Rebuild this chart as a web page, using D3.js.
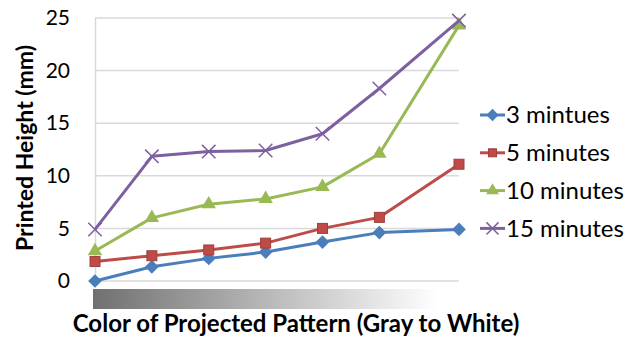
<!DOCTYPE html>
<html>
<head>
<meta charset="utf-8">
<script src="https://cdn.jsdelivr.net/npm/d3@7"></script>
<style>
  body { margin: 0; background: #fff; }
  svg { display: block; font-family: Lato, "Open Sans", sans-serif; }
</style>
</head>
<body>
<div id="canvas"></div>
<script>
"use strict";

// gray level of each projected pattern (last step is wider on the original axis)
let levels = [0, 1, 2, 3, 4, 5, 6.4];

let seriesNames = ["3 mintues", "5 minutes", "10 minutes", "15 minutes"];
let min3 = [0, 1.35, 2.15, 2.75, 3.7, 4.6, 4.9];
let min5 = [1.85, 2.4, 2.95, 3.6, 5.0, 6.05, 11.1];
let min10 = [2.85, 6.0, 7.3, 7.8, 8.95, 12.1, 24.3];
let min15 = [4.9, 11.85, 12.3, 12.4, 14.0, 18.3, 24.75];
let yTicks = [0, 5, 10, 15, 20, 25];

let colors = ["#4a7ebb", "#be4b48", "#98b954", "#7d60a0"];
let shapes = ["diamond", "square", "triangle", "cross"];

let width = 640;
let height = 339;

let svg = d3.select("#canvas")
  .append("svg")
  .attr("width", width)
  .attr("height", height);

let xScale = d3.scaleLinear()
  .domain([0, 6.4])
  .range([95, 459]);

let yScale = d3.scaleLinear()
  .domain([0, 25])
  .range([281, 18]);

// gridlines
svg.append("g")
  .selectAll("line")
  .data(yTicks)
  .enter()
  .append("line")
  .attr("x1", 95)
  .attr("x2", 459)
  .attr("y1", d => yScale(d))
  .attr("y2", d => yScale(d))
  .attr("stroke", "#d9d9d9")
  .attr("stroke-width", 1.5);

svg.append("line")
  .attr("x1", 95.5).attr("x2", 95.5)
  .attr("y1", yScale(25)).attr("y2", yScale(0))
  .attr("stroke", "#d9d9d9")
  .attr("stroke-width", 1.5);

// y axis labels
let yAxis = svg.append("g")
  .attr("transform", "translate(70, 0)")
  .call(d3.axisLeft(yScale).tickValues(yTicks).tickSize(0).tickPadding(0));
yAxis.select(".domain").remove();
yAxis.selectAll("text")
  .style("font-family", "Lato, sans-serif")
  .style("font-size", "21px")
  .attr("fill", "#000");

// gradient bar under the plot
let grad = svg.append("defs").append("linearGradient")
  .attr("id", "grayToWhite");
grad.append("stop").attr("offset", "0%").attr("stop-color", "#707070");
grad.append("stop").attr("offset", "100%").attr("stop-color", "#ffffff");

svg.append("rect")
  .attr("x", 93)
  .attr("y", 289)
  .attr("width", 345)
  .attr("height", 20)
  .attr("fill", "url(#grayToWhite)");

// lines
let allSeries = [min3, min5, min10, min15];
let line = d3.line()
  .x((d, i) => xScale(levels[i]))
  .y(d => yScale(d));

function marker(g, shape, color, size) {
  if (shape === "diamond") {
    g.append("path")
      .attr("d", d3.symbol(d3.symbolDiamond2, size * 12)())
      .attr("fill", color);
  } else if (shape === "square") {
    g.append("rect")
      .attr("x", -size / 2).attr("y", -size / 2)
      .attr("width", size).attr("height", size)
      .attr("fill", color)
      .attr("stroke", d3.color(color).darker(0.5))
      .attr("stroke-width", 1);
  } else if (shape === "triangle") {
    g.append("path")
      .attr("d", d3.symbol(d3.symbolTriangle, size * 9)())
      .attr("fill", color);
  } else {
    g.append("path")
      .attr("d", d3.symbol(d3.symbolX, size * 12)())
      .attr("fill", "none")
      .attr("stroke", color)
      .attr("stroke-width", 1.5);
  }
}

allSeries.forEach((vals, s) => {
  svg.append("path")
    .datum(vals)
    .attr("d", line)
    .attr("fill", "none")
    .attr("stroke", colors[s])
    .attr("stroke-width", 3)
    .attr("stroke-linejoin", "round");

  svg.append("g")
    .selectAll("g")
    .data(vals)
    .enter()
    .append("g")
    .attr("transform", (d, i) => `translate(${xScale(levels[i])},${yScale(d)})`)
    .each(function () { marker(d3.select(this), shapes[s], colors[s], 10); });
});

// legend
let legend = svg.append("g")
  .selectAll("g")
  .data(seriesNames)
  .enter()
  .append("g")
  .attr("transform", (d, i) => `translate(480, ${115 + i * 37.8})`);

legend.append("line")
  .attr("x1", 0).attr("x2", 25)
  .attr("stroke", (d, i) => colors[i])
  .attr("stroke-width", 3);

legend.append("g")
  .attr("transform", "translate(12.5,0)")
  .each(function (d, i) { marker(d3.select(this), shapes[i], colors[i], 8); });

legend.append("text")
  .attr("x", 26)
  .attr("dy", "0.35em")
  .style("font-size", "24px")
  .text(d => d);

// axis titles
svg.append("text")
  .attr("x", 296)
  .attr("y", 332)
  .attr("text-anchor", "middle")
  .style("font-size", "24px")
  .style("font-weight", "bold")
  .text("Color of Projected Pattern (Gray to White)");

svg.append("text")
  .attr("transform", "translate(33, 148) rotate(-90)")
  .attr("text-anchor", "middle")
  .style("font-size", "23px")
  .style("font-weight", "bold")
  .text("Printed Height (mm)");
</script>
</body>
</html>
